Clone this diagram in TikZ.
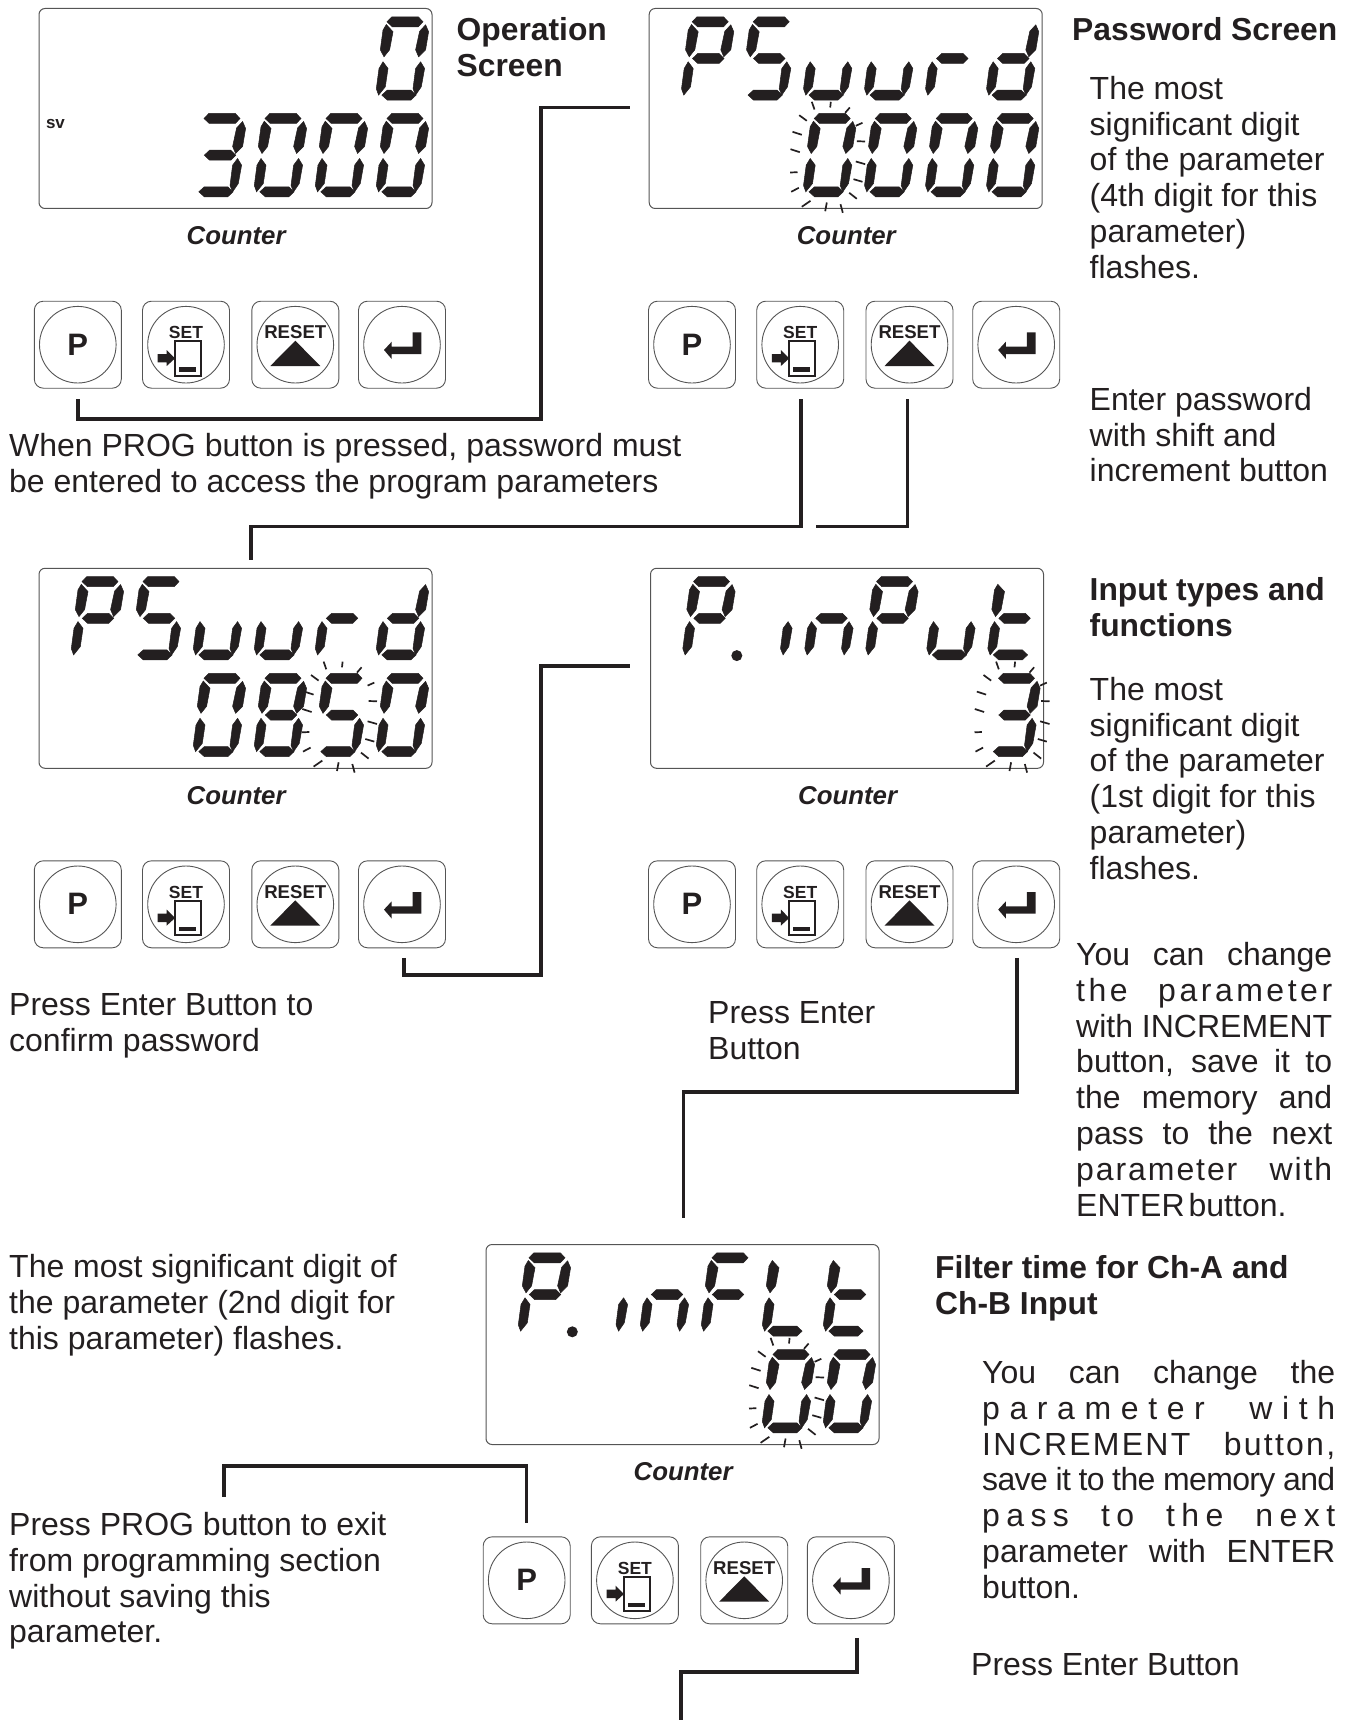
\documentclass[tikz,border=0pt]{standalone}
\usepackage{fontspec}
\setmainfont{Liberation Sans}
\usepackage{tikz}

\definecolor{segink}{HTML}{231F20}
\definecolor{boxline}{HTML}{555555}

% seven segments, digit origin at left tip / top centre
\def\sega{(10.7,0)--(15.5,-5)--(42,-5)--(46.7,0)--(42,5)--(16,5)--cycle}
\def\segb{(49.3,3)--(52.3,10)--(49.3,28)--(42.3,35)--(39.3,28)--(43.3,9.5)--cycle}
\def\segc{(44.3,40)--(48.3,46.7)--(45,65)--(39.3,73.3)--(36.7,67)--(39.3,46.7)--cycle}
\def\segd{(5.5,73.3)--(11,68.3)--(34.5,68.3)--(39.8,73.3)--(34.5,78.3)--(11,78.3)--cycle}
\def\sege{(6.7,40)--(11.7,46.7)--(9,65)--(2.3,73.3)--(0,67)--(2.7,46.7)--cycle}
\def\segf{(10,2.7)--(16.7,10)--(13.3,28)--(7.7,35)--(4,28)--(6.7,8.3)--cycle}
\def\segg{(11,36.7)--(16.3,31.7)--(37.5,31.7)--(42.5,36.7)--(37.5,41.7)--(16.3,41.7)--cycle}

\def\glyP{a,b,e,f,g}
\def\glyS{a,c,d,f,g}
\def\glyu{c,d,e}
\def\glyr{e,g}
\def\glyd{b,c,d,e,g}
\def\glyt{d,e,f,g}
\def\glyi{c}
\def\glyn{c,e,g}
\def\glyF{a,e,f,g}
\def\glyL{d,e,f}
\expandafter\def\csname gly0\endcsname{a,b,c,d,e,f}
\expandafter\def\csname gly3\endcsname{a,b,c,d,g}
\expandafter\def\csname gly5\endcsname{a,c,d,f,g}
\expandafter\def\csname gly8\endcsname{a,b,c,d,e,f,g}

\newcommand{\lcdrow}[3]{%
  \foreach \cidx/\cname in {#3}{%
    \edef\seglist{\csname gly\cname\endcsname}%
    \begin{scope}[shift={(#1.north west)},shift={(32.3+61*\cidx,13.3+96.7*#2)}]
      \foreach \s in \seglist {%
        \edef\segpath{\csname seg\s\endcsname}%
        \filldraw[segfill] \segpath;
      }
    \end{scope}
  }%
}
\newcommand{\lcdflash}[2]{%
  \begin{scope}[shift={(#1.north west)},shift={(32.3+61*#2,110)}]
    \foreach \xa/\ya/\xb/\yb in {8.3/-16.7/11/-9,27.3/-16.7/26.7/-11,41.7/-5.7/46.3/-11,-4.3/-3.3/3.3/2.3,
      -11/13.3/-1.7/16.3,-13/30.7/-3.7/33.7,-13.3/54/-6/53.7,-12.3/73.3/-4.7/69.3,
      -1.7/88.3/7/82.3,21.7/92.7/23.3/84,39.3/94.3/37/85.7,53.3/80.3/45.7/74.3,
      59/63.3/50/60.7,61.7/45.7/52.3/43,61.7/23/53.3/22.7,59/4.3/52.3/7.3}
      \draw[flashtick] (\xa,\ya) -- (\xb,\yb);
  \end{scope}
}
\newcommand{\keypad}[3]{%
  \node[btnbox] (#1p) at (#2,#3) {};
  \node[btnbox,right of=#1p,node distance=108.2pt] (#1s) {};
  \node[btnbox,right of=#1s,node distance=109.3pt] (#1r) {};
  \node[btnbox,right of=#1r,node distance=106.7pt] (#1e) {};
  \node[btndisk] (#1pd) at (#1p) {};
  \node[btndisk] (#1sd) at (#1s) {};
  \node[btndisk] (#1rd) at (#1r) {};
  \node[btndisk] (#1ed) at (#1e) {};
  \node[font=\bfseries\fontsize{31pt}{31pt}\selectfont,text=segink] (#1pt) at (#1p) {P};
  \node[font=\bfseries\fontsize{17.5pt}{17pt}\selectfont,text=segink] (#1st) at ([yshift=12.3pt]#1s.center) {SET};
  \node[font=\bfseries\fontsize{18.6pt}{18pt}\selectfont,text=segink] (#1rt) at ([yshift=12.3pt]#1r.center) {RESET};
  \begin{scope}[shift={(#1s)}]
    \draw[segink,line width=1.8pt] (-11,-3.7) rectangle (15,31);
    \fill[fill=segink] (-7,22.7) rectangle (10,27);
    \fill[fill=segink] (-28.3,9.3)--(-19.3,9.3)--(-19.3,5.3)--(-11,13.7)--(-19.3,21.3)--(-19.3,17.7)--(-28.3,17.7)--cycle;
  \end{scope}
  \begin{scope}[shift={(#1r)}]
    \fill[fill=segink] (0,-4)--(-25,21.3)--(25,21.3)--cycle;
  \end{scope}
  \begin{scope}[shift={(#1e)}]
    \fill[fill=segink] (10.7,-12.3)--(19.3,-12.3)--(19.3,9.3)--(-10.3,9.3)--(-10.3,14.3)--(-18,5.3)--(-10.3,-3)--(-10.3,2)--(10.7,2)--cycle;
  \end{scope}
}
\newcommand{\jl}[3][0]{\makebox[#2pt][s]{\addfontfeature{LetterSpace=#1}#3}}

\tikzset{
  segfill/.style={fill=segink,draw=segink,line width=.5pt},
  flashtick/.style={draw=segink,line width=1.7pt},
  lcdbox/.style={draw=boxline,line width=1pt,rounded corners=6pt,minimum width=393pt,minimum height=200pt,outer sep=0pt,inner sep=0pt},
  btnbox/.style={draw=boxline,line width=.9pt,rounded corners=9pt,minimum size=87pt,outer sep=0pt,inner sep=0pt},
  btndisk/.style={draw=boxline,line width=.9pt,shape=circle,minimum size=76.6pt,outer sep=0pt,inner sep=0pt},
  lcdlabel/.style={font=\bfseries\itshape\fontsize{25.8pt}{26pt}\selectfont,text=segink,node distance=127pt,xshift=.6pt},
  wire/.style={draw=segink,line width=3.5pt,line join=miter},
  note/.style={anchor=north west,inner sep=0pt,align=left,text=segink,font=\fontsize{32pt}{35.8pt}\selectfont,execute at begin node={\rule{0pt}{24pt}}},
  head/.style={note,font=\bfseries\fontsize{31.8pt}{35.8pt}\selectfont}
}

\begin{document}
\begin{tikzpicture}[x=1pt,y=-1pt]
\useasboundingbox (0,0) rectangle (1354,1720);

\node[lcdbox] (lcda) at (235.5,108.5) {};
\node[lcdbox] (lcdb) at (845.7,108.5) {};
\node[lcdbox] (lcdc) at (235.5,668.3) {};
\node[lcdbox] (lcdd) at (847,668.3) {};
\node[lcdbox] (lcde) at (682.5,1344.5) {};

\node[lcdlabel,below of=lcda] (cnta) {Counter};
\node[lcdlabel,below of=lcdb] (cntb) {Counter};
\node[lcdlabel,below of=lcdc] (cntc) {Counter};
\node[lcdlabel,below of=lcdd] (cntd) {Counter};
\node[lcdlabel,below of=lcde] (cnte) {Counter};

\lcdrow{lcda}{0}{5/0}
\lcdrow{lcda}{1}{2/3,3/0,4/0,5/0}
\node[font=\bfseries\fontsize{17pt}{17pt}\selectfont,text=segink] (svtag) at (55.5,124) {sv};

\lcdrow{lcdb}{0}{0/P,1/S,2/u,3/u,4/r,5/d}
\lcdrow{lcdb}{1}{2/0,3/0,4/0,5/0}
\lcdflash{lcdb}{2}

\lcdrow{lcdc}{0}{0/P,1/S,2/u,3/u,4/r,5/d}
\lcdrow{lcdc}{1}{2/0,3/8,4/5,5/0}
\lcdflash{lcdc}{4}

\lcdrow{lcdd}{0}{0/P,1/i,2/n,3/P,4/u,5/t}
\lcdrow{lcdd}{1}{5/3}
\lcdflash{lcdd}{5}
\fill[fill=segink] ([shift={(86.3,87.3)}]lcdd.north west) circle (5.5);

\lcdrow{lcde}{0}{0/P,1/i,2/n,3/F,4/L,5/t}
\lcdrow{lcde}{1}{4/0,5/0}
\lcdflash{lcde}{4}
\fill[fill=segink] ([shift={(86.3,87.3)}]lcde.north west) circle (5.5);

\keypad{a}{77.8}{344.7}
\keypad{b}{692}{344.7}
\keypad{c}{77.8}{904.3}
\keypad{d}{692}{904.3}
\keypad{e}{526.7}{1580.3}

\coordinate (wa) at (630,107.5);
\coordinate (wb) at (251,560);
\coordinate (wc) at (816,526.6);
\coordinate (wd) at (630,666);
\coordinate (we) at (683.6,1218);
\coordinate (wf) at (224,1497);
\coordinate (wg) at (681,1720);

\draw[wire] ([yshift=-11pt]ap.south) -- ++(0,20) -- ++(463,0) |- (wa);
\draw[wire] ([xshift=1pt,yshift=-11pt]bs.south) |- (251,526.6) -- (wb);
\draw[wire] ([xshift=-2pt,yshift=-11pt]br.south) |- (wc);
\draw[wire] ([xshift=2pt,yshift=-10pt]ce.south) -- ++(0,17) -- ++(137,0) |- (wd);
\draw[wire] ([xshift=1pt,yshift=-10pt]de.south) |- (683.6,1092) -- (we);
\draw[wire] ([yshift=14pt]ep.north) |- (224,1466) -- (wf);
\draw[wire] ([xshift=6.3pt,yshift=-14pt]ee.south) |- (681,1672) -- (wg);

\node[head] (hoper) at (456.5,17.6) {Operation\\Screen};
\node[head] (hpass) at (1072,16.6) {Password Screen};
\node[note] (npass) at (1089.5,76) {The most\\significant digit\\of the parameter\\(4th digit for this\\parameter)\\flashes.};
\node[note] (nenter) at (1089.5,387) {Enter password\\with shift and\\increment button};
\node[note] (nprog) at (9,433) {When PROG button is pressed, password must\\be entered to access the program parameters};
\node[note] (nconf) at (9,993) {Press Enter Button to\\confirm password};
\node[note] (npress) at (708,1001) {Press Enter\\Button};
\node[head] (hinput) at (1089.5,577) {Input types and\\functions};
\node[note] (ninput) at (1089.5,677) {The most\\significant digit\\of the parameter\\(1st digit for this\\parameter)\\flashes.};
\node[note] (nchg) at (1076,942) {\jl{256}{You can change}\\\jl[11]{256}{the parameter}\\\jl{256}{with INCREMENT}\\\jl{256}{button, save it to}\\\jl{256}{the memory and}\\\jl{256}{pass to the next}\\\jl[6]{256}{parameter with}\\ENTER\hspace{4pt}button.};
\node[note] (nfilt) at (9,1254) {The most significant digit of\\the parameter (2nd digit for\\this parameter) flashes.};
\node[head] (hfilt) at (935,1255) {Filter time for Ch-A and\\Ch-B Input};
\node[note] (nchb) at (982,1360) {\jl{353}{You can change the}\\\jl[30]{353}{parameter with}\\\jl[7]{353}{INCREMENT button,}\\\jl[-2]{353}{save it to the memory and}\\\jl[20]{353}{pass to the next}\\\jl{353}{parameter with ENTER}\\button.};
\node[note] (nexit) at (9,1512) {Press PROG button to exit\\from programming section\\without saving this\\parameter.};
\node[note] (nlast) at (971,1651) {Press Enter Button};

\end{tikzpicture}
\end{document}
